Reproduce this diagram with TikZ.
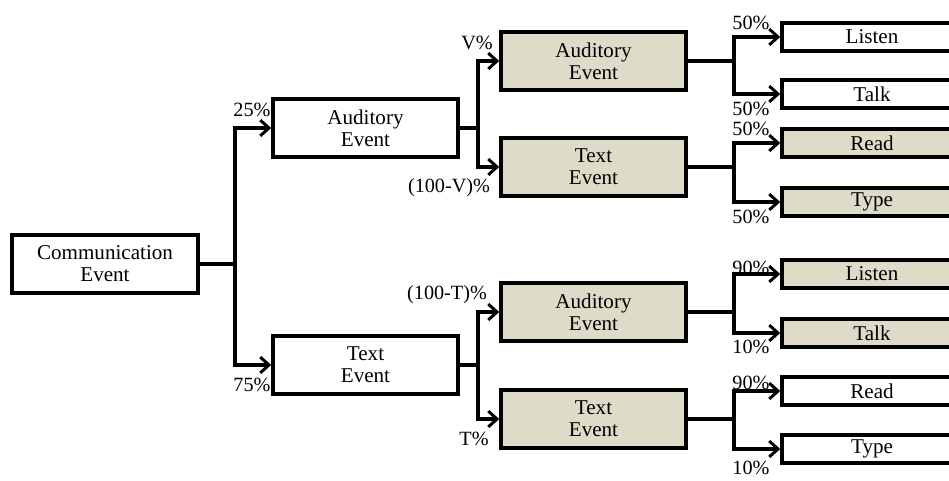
\documentclass[tikz,border=0pt]{standalone}
\usepackage{fontspec}
\setmainfont{Liberation Serif}
\usetikzlibrary{arrows.meta}
\definecolor{shadefill}{RGB}{222,219,200}
\tikzset{
  box/.style={draw=black, line width=2pt, fill=white, align=center, inner sep=0pt,
    font=\fontsize{12}{12.5}\selectfont, minimum width=3.7cm, minimum height=1.16cm},
  shaded/.style={fill=shadefill},
  leaf/.style={box, minimum width=3.6cm, minimum height=0.56cm},
  conn/.style={line width=2pt},
  arr/.style={conn, -{Straight Barb[length=5pt,width=9pt,line width=1.7pt]}},
  lab/.style={font=\fontsize{11.5}{11.5}\selectfont, inner sep=0pt}
}
\begin{document}
\begin{tikzpicture}[x=0.02cm,y=-0.02cm]
\useasboundingbox (0,0) rectangle (949,480);
\clip (0,0) rectangle (949,480);
\fill[white] (0,0) rectangle (949,480);

% nodes
\node[box, minimum width=3.72cm] (comm) at (105,264) {Communication\\Event};
\node[box] (a1) at (365.5,128) {Auditory\\Event};
\node[box] (t1) at (365.5,365) {Text\\Event};
\node[box,shaded] (a2) at (593.5,61) {Auditory\\Event};
\node[box,shaded] (t2) at (593.5,167) {Text\\Event};
\node[box,shaded] (a3) at (593.5,312) {Auditory\\Event};
\node[box,shaded] (t3) at (593.5,419) {Text\\Event};

\node[leaf] (l1) at (872,37) {Listen};
\node[leaf] (k1) at (872,94) {Talk};
\node[leaf,shaded] (r1) at (872,143) {Read};
\node[leaf,shaded] (y1) at (872,202) {Type};
\node[leaf,shaded] (l2) at (872,274) {Listen};
\node[leaf,shaded] (k2) at (872,333) {Talk};
\node[leaf] (r2) at (872,391) {Read};
\node[leaf] (y2) at (872,449) {Type};

% junctions
\coordinate (j0) at (235,264);
\coordinate (j1) at (478,128);
\coordinate (j2) at (478,365);
\coordinate (j3) at (734,61);
\coordinate (j4) at (734,167);
\coordinate (j5) at (734,312);
\coordinate (j6) at (734,419);

% connectors
\draw[conn] (comm.east) -- (j0);
\draw[arr] (j0) |- (a1.west);
\draw[arr] (j0) |- (t1.west);

\draw[conn] (a1.east) -- (j1);
\draw[arr] (j1) |- (a2.west);
\draw[arr] (j1) |- (t2.west);
\draw[conn] (t1.east) -- (j2);
\draw[arr] (j2) |- (a3.west);
\draw[arr] (j2) |- (t3.west);

\draw[conn] (a2.east) -- (j3);
\draw[arr] (j3) |- (l1.west);
\draw[arr] (j3) |- (k1.west);
\draw[conn] (t2.east) -- (j4);
\draw[arr] (j4) |- (r1.west);
\draw[arr] (j4) |- (y1.west);
\draw[conn] (a3.east) -- (j5);
\draw[arr] (j5) |- (l2.west);
\draw[arr] (j5) |- (k2.west);
\draw[conn] (t3.east) -- (j6);
\draw[arr] (j6) |- (r2.west);
\draw[arr] (j6) |- (y2.west);

% labels
\node[lab] (p25) at (252,110) {25\%};
\node[lab] (p75) at (252,385) {75\%};
\node[lab] (pv) at (477,43) {V\%};
\node[lab] (pnv) at (449,188) {(100-V)\%};
\node[lab] (pnt) at (447,295) {(100-T)\%};
\node[lab] (pt) at (474,439) {T\%};

\node[lab] (q1) at (751,23) {50\%};
\node[lab] (q2) at (751,109) {50\%};
\node[lab] (q3) at (751,128.5) {50\%};
\node[lab] (q4) at (751,217) {50\%};
\node[lab] (q5) at (751,268) {90\%};
\node[lab] (q6) at (751,347) {10\%};
\node[lab] (q7) at (751,383) {90\%};
\node[lab] (q8) at (751,468) {10\%};
\end{tikzpicture}
\end{document}
